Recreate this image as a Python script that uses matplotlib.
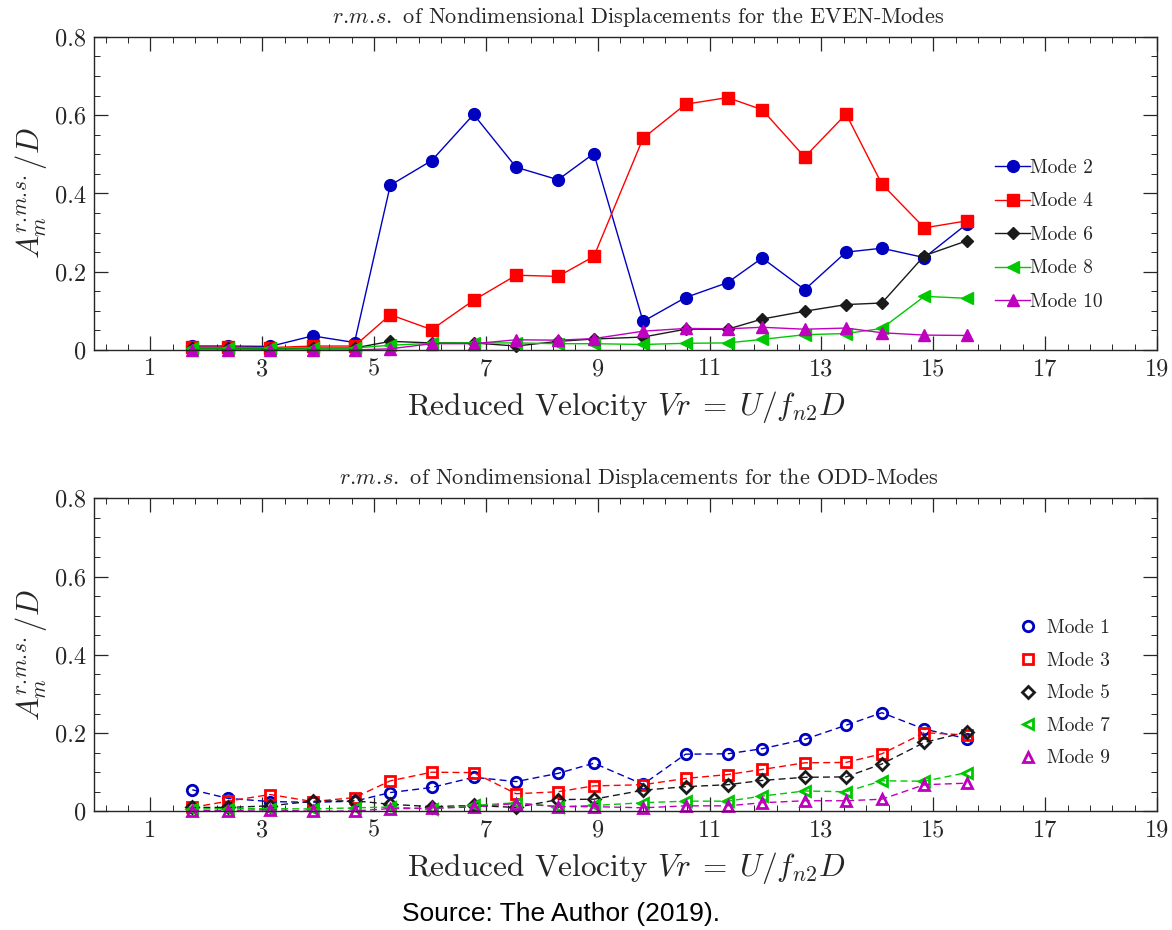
import matplotlib
matplotlib.use("Agg")
import matplotlib.pyplot as plt
from matplotlib.ticker import AutoMinorLocator, FixedLocator, FixedFormatter

plt.rcParams['font.family'] = 'serif'
plt.rcParams['font.serif'] = ['cmr10']
plt.rcParams['mathtext.fontset'] = 'cm'
plt.rcParams['axes.unicode_minus'] = False

# Reduced velocity stations
vr = [1.75, 2.39, 3.14, 3.90, 4.65, 5.29, 6.03, 6.78, 7.54, 8.29,
      8.93, 9.81, 10.57, 11.32, 11.94, 12.70, 13.44, 14.08, 14.84, 15.60]

# r.m.s. amplitudes, even modes
mode2 = [0.010, 0.010, 0.009, 0.036, 0.019, 0.421, 0.484, 0.602, 0.467, 0.435,
         0.502, 0.073, 0.134, 0.172, 0.235, 0.154, 0.250, 0.260, 0.236, 0.322]
mode4 = [0.007, 0.007, 0.006, 0.010, 0.010, 0.090, 0.052, 0.127, 0.191, 0.188,
         0.239, 0.541, 0.628, 0.645, 0.614, 0.493, 0.603, 0.424, 0.312, 0.330]
mode6 = [0.004, 0.004, 0.003, 0.005, 0.005, 0.022, 0.018, 0.018, 0.010, 0.022,
         0.028, 0.033, 0.053, 0.053, 0.079, 0.099, 0.116, 0.120, 0.241, 0.279]
mode8 = [0.005, 0.005, 0.005, 0.005, 0.005, 0.012, 0.017, 0.018, 0.018, 0.016,
         0.016, 0.014, 0.017, 0.018, 0.027, 0.039, 0.042, 0.055, 0.137, 0.132]
mode10 = [0.000, 0.000, 0.000, 0.000, 0.000, 0.003, 0.016, 0.016, 0.026, 0.025,
          0.029, 0.048, 0.055, 0.054, 0.058, 0.053, 0.056, 0.044, 0.038, 0.037]

# r.m.s. amplitudes, odd modes
mode1 = [0.055, 0.033, 0.025, 0.023, 0.026, 0.048, 0.061, 0.087, 0.076, 0.097,
         0.123, 0.069, 0.146, 0.147, 0.160, 0.184, 0.220, 0.252, 0.210, 0.186]
mode3 = [0.010, 0.026, 0.043, 0.025, 0.035, 0.078, 0.100, 0.099, 0.045, 0.050,
         0.065, 0.068, 0.084, 0.094, 0.107, 0.124, 0.125, 0.147, 0.201, 0.195]
mode5 = [0.010, 0.010, 0.014, 0.026, 0.027, 0.018, 0.012, 0.015, 0.010, 0.030,
         0.031, 0.054, 0.063, 0.068, 0.079, 0.087, 0.088, 0.121, 0.176, 0.203]
mode7 = [0.006, 0.007, 0.007, 0.006, 0.009, 0.011, 0.006, 0.015, 0.022, 0.012,
         0.015, 0.022, 0.026, 0.026, 0.039, 0.052, 0.050, 0.078, 0.077, 0.099]
mode9 = [0.002, 0.002, 0.004, 0.000, 0.001, 0.007, 0.008, 0.011, 0.020, 0.012,
         0.012, 0.009, 0.014, 0.014, 0.022, 0.027, 0.027, 0.031, 0.068, 0.072]

even_labels = ['Mode 2', 'Mode 4', 'Mode 6', 'Mode 8', 'Mode 10']
odd_labels = ['Mode 1', 'Mode 3', 'Mode 5', 'Mode 7', 'Mode 9']

x_ticks = [1, 3, 5, 7, 9, 11, 13, 15, 17, 19]
x_ticklabels = ['1', '3', '5', '7', '9', '11', '13', '15', '17', '19']
y_ticks = [0, 0.2, 0.4, 0.6, 0.8]
y_ticklabels = ['0', '0.2', '0.4', '0.6', '0.8']

colors = ['#0000c0', '#ff0000', '#1a1a1a', '#00c800', '#bf00bf']
markers = ['o', 's', 'D', '<', '^']
msizes = [8.5, 8.5, 6.0, 8.5, 8.5]
odd_msizes = [7.5, 7.5, 6.0, 7.5, 7.5]

TXT = '#262626'
RMS = r'r.\!m.\!s.'

fig = plt.figure(figsize=(11.72, 9.30), dpi=100)
ax1 = fig.add_axes([0.0806, 0.6237, 0.9066, 0.3366])
ax2 = fig.add_axes([0.0806, 0.1276, 0.9066, 0.3366])


def style_axes(ax, title):
    ax.set_xlim(0, 19)
    ax.set_ylim(0, 0.8)
    ax.xaxis.set_major_locator(FixedLocator(x_ticks))
    ax.xaxis.set_major_formatter(FixedFormatter(x_ticklabels))
    ax.yaxis.set_major_locator(FixedLocator(y_ticks))
    ax.yaxis.set_major_formatter(FixedFormatter(y_ticklabels))
    ax.xaxis.set_minor_locator(AutoMinorLocator(5))
    ax.yaxis.set_minor_locator(AutoMinorLocator(4))
    ax.tick_params(which='both', direction='in', top=True, right=True,
                   colors=TXT, labelcolor=TXT)
    ax.tick_params(which='major', length=10, width=0.9, labelsize=17.5, pad=6)
    ax.tick_params(which='minor', length=4, width=0.7)
    for sp in ax.spines.values():
        sp.set_color(TXT)
        sp.set_linewidth(1.0)
    ax.set_title(title, fontsize=16, color=TXT, pad=10, x=0.512)
    ax.set_xlabel(r'Reduced Velocity $Vr\;=\;U/f_{n2}D$', fontsize=22.5,
                  color=TXT, labelpad=6)
    ax.set_ylabel(r'$A_m^{' + RMS + r'}/D$', fontsize=22, color=TXT,
                  labelpad=4)


even = [mode2, mode4, mode6, mode8, mode10]
for vals, c, m, ms, lab in zip(even, colors, markers, msizes, even_labels):
    ax1.plot(vr, vals, color=c, marker=m, markersize=ms, linewidth=1.0,
             markerfacecolor=c, markeredgecolor=c, label=lab, clip_on=False)

odd = [mode1, mode3, mode5, mode7, mode9]
odd_handles = []
for vals, c, m, ms, lab in zip(odd, colors, markers, odd_msizes, odd_labels):
    ax2.plot(vr, vals, color=c, linestyle=(0, (5, 3)), linewidth=1.0,
             clip_on=False)
    h, = ax2.plot(vr, vals, color=c, linestyle='none', marker=m,
                  markersize=ms, markerfacecolor='none', markeredgecolor=c,
                  markeredgewidth=2.0, label=lab, clip_on=False)
    odd_handles.append(h)

style_axes(ax1, '$' + RMS + '$ of Nondimensional Displacements for the EVEN-Modes')
style_axes(ax2, '$' + RMS + '$ of Nondimensional Displacements for the ODD-Modes')

leg1 = ax1.legend(loc='upper left', bbox_to_anchor=(0.849, 0.829),
                  bbox_transform=fig.transFigure, frameon=False, fontsize=14,
                  handlelength=1.8, handletextpad=0.0, labelspacing=0.80,
                  borderaxespad=0, borderpad=0)
for t in leg1.get_texts():
    t.set_color(TXT)

leg2 = ax2.legend(handles=odd_handles, loc='upper left',
                  bbox_to_anchor=(0.869, 0.334), bbox_transform=fig.transFigure,
                  frameon=False, fontsize=14, handlelength=1.0,
                  handletextpad=0.45, labelspacing=0.75, borderaxespad=0,
                  borderpad=0)
for t in leg2.get_texts():
    t.set_color(TXT)

fig.text(0.479, 0.010, 'Source: The Author (2019).', fontsize=19,
         family='Liberation Sans', color='black', ha='center', va='baseline')

fig.savefig('out.png', dpi=100)
